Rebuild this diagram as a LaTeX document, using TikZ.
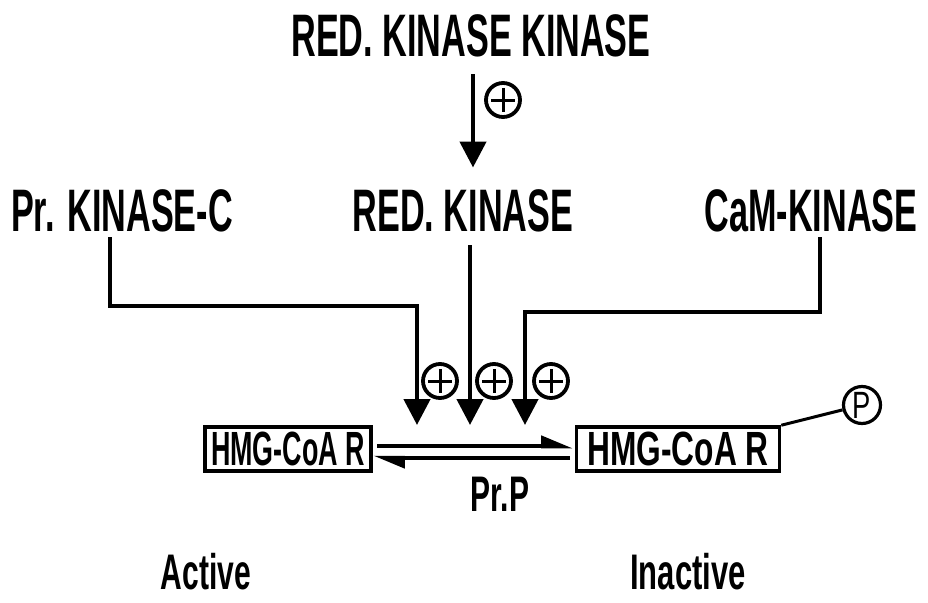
\documentclass[tikz,border=0pt]{standalone}
\usepackage{fontspec}
\setmainfont{Liberation Sans}
\usetikzlibrary{arrows.meta}
\newcommand\cnd[2]{\scalebox{#1}[1]{#2}}
\begin{document}
\begin{tikzpicture}[x=1pt,y=-1pt,
  line width=4.5pt,
  lbl/.style={font=\fontsize{60}{60}\selectfont\bfseries, inner sep=0pt},
  sub/.style={font=\fontsize{50}{50}\selectfont\bfseries, inner sep=0pt},
  hmg/.style={draw, line width=3.5pt, font=\fontsize{48}{48}\selectfont\bfseries, inner sep=0pt, minimum height=44pt},
  arr/.style={-{Triangle[length=26pt,width=26pt]}},
  hpn/.style={line width=4.5pt, -{Triangle[harpoon,length=26pt,width=20pt]}},
  plusc/.style={circle, draw, line width=3.8pt, minimum size=34pt, inner sep=0pt,
    path picture={
      \draw[line width=3pt, shorten >=5pt, shorten <=5pt] (path picture bounding box.north) -- (path picture bounding box.south);
      \draw[line width=3pt, shorten >=5pt, shorten <=5pt] (path picture bounding box.west) -- (path picture bounding box.east);}}
]
\useasboundingbox (0,0) rectangle (928,602);

% labels
\node[lbl] (rkk) at (471,36) {\cnd{0.57}{RED. KINASE KINASE}};
\node[lbl] (pkc) at (122,211) {\cnd{0.57}{Pr. KINASE-C}};
\node[lbl] (rk)  at (463,211) {\cnd{0.57}{RED. KINASE}};
\node[lbl] (cam) at (811,211) {\cnd{0.57}{CaM-KINASE}};

% boxes
\node[hmg, minimum width=166pt] (hA) at (288,449) {\cnd{0.56}{HMG-CoA R}};
\node[hmg, minimum width=203pt] (hI) at (678,449) {\cnd{0.66}{HMG-CoA R}};

% phosphate
\node[circle, draw, line width=3.2pt, minimum size=37pt, inner sep=0pt,
      font=\fontsize{38}{38}\selectfont] (P) at (862,405) {\cnd{0.72}{P}};
\draw[line width=3pt] (hI.north east) -- (P);

% top arrow
\coordinate (t0) at (473,74);
\draw[arr] (t0) -- (rk.north -| t0) [shorten >=20pt];
\node[plusc] (pt) at (503,100) {};

% converging arrows
\coordinate (l0) at (110,237);
\coordinate (l1) at (417,306);
\coordinate (l2) at (417,425);
\draw[arr] (l0) |- (l1) -- (l2);

\coordinate (m0) at (470,245);
\coordinate (m1) at (470,425);
\draw[arr] (m0) -- (m1);

\coordinate (r0) at (820,237);
\coordinate (r1) at (525,312);
\coordinate (r2) at (525,425);
\draw[arr] (r0) |- (r1) -- (r2);

\node[plusc] (p1) at (440,381) {};
\node[plusc] (p2) at (494,381) {};
\node[plusc] (p3) at (551,381) {};

% equilibrium harpoons
\coordinate (e1) at (377,446);
\coordinate (e2) at (573,446);
\coordinate (e3) at (570,458);
\coordinate (e4) at (373,458);
\draw[hpn] (e1) -- (e2);
\draw[hpn] (e3) -- (e4);

\node[sub] (prp) at (500,494) {\cnd{0.6}{Pr.P}};

\node[sub] (act) at (206,572) {\cnd{0.6}{Active}};
\node[sub] (inact) at (688,572) {\cnd{0.62}{Inactive}};
\end{tikzpicture}
\end{document}
